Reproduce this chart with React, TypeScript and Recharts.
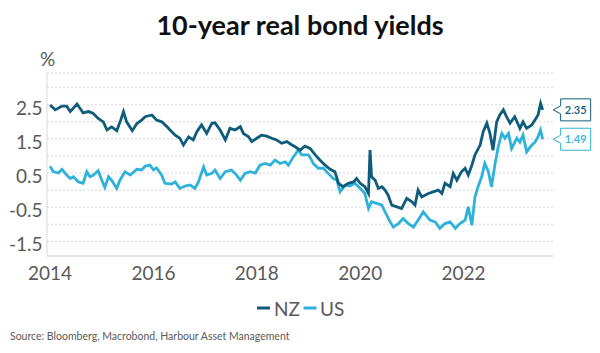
import { CartesianGrid, Line, LineChart, XAxis, YAxis } from "recharts";

const FONT = "Lato, 'Open Sans', sans-serif";
const NZ_COLOR = "#0f5b7a";
const US_COLOR = "#2eb2da";
const TEXT = "#595959";
const AXIS_LINE = "#d9d9d9";

const TITLE = "10-year real bond yields";
const UNIT = "%";
const SOURCE = "Source: Bloomberg, Macrobond, Harbour Asset Management";
const SERIES_NAMES = ["NZ", "US"];

const YEAR_TICKS = [2014, 2016, 2018, 2020, 2022];
const YIELD_TICKS = [-1.5, -1, -0.5, 0, 0.5, 1, 1.5, 2, 2.5, 3];

// NZ 10y real yield (decimal years)
const NZ_DATES = [
  2014.0, 2014.1, 2014.23, 2014.32, 2014.39, 2014.52, 2014.64, 2014.74, 2014.83, 2014.93,
  2015.03, 2015.1, 2015.19, 2015.29, 2015.37, 2015.42, 2015.48, 2015.59, 2015.68, 2015.77,
  2015.84, 2015.97, 2016.06, 2016.16, 2016.26, 2016.32, 2016.42, 2016.51, 2016.58, 2016.68,
  2016.77, 2016.84, 2016.93, 2017.03, 2017.13, 2017.19, 2017.29, 2017.39, 2017.48, 2017.58,
  2017.68, 2017.74, 2017.84, 2017.9, 2018.0, 2018.09, 2018.19, 2018.29, 2018.38, 2018.48,
  2018.58, 2018.68, 2018.74, 2018.84, 2018.93, 2019.03, 2019.13, 2019.22, 2019.32, 2019.42,
  2019.51, 2019.58, 2019.67, 2019.77, 2019.87, 2019.93, 2020.0, 2020.09, 2020.16, 2020.19,
  2020.22, 2020.29, 2020.35, 2020.42, 2020.48, 2020.54, 2020.61, 2020.71, 2020.8, 2020.9,
  2021.0, 2021.06, 2021.12, 2021.19, 2021.32, 2021.41, 2021.51, 2021.58, 2021.64, 2021.74,
  2021.8, 2021.87, 2021.96, 2022.03, 2022.09, 2022.16, 2022.22, 2022.32, 2022.38, 2022.45,
  2022.51, 2022.57, 2022.64, 2022.7, 2022.77, 2022.83, 2022.9, 2022.99, 2023.09, 2023.15,
  2023.22, 2023.32, 2023.38, 2023.44, 2023.49, 2023.53,
];
const NZ_YIELDS = [
  2.49, 2.35, 2.46, 2.46, 2.3, 2.52, 2.26, 2.3, 2.25, 2.1,
  2.0, 1.76, 1.85, 1.74, 2.07, 2.3, 2.0, 1.74, 1.95, 2.05,
  2.15, 2.2, 2.05, 2.0, 1.86, 1.76, 1.61, 1.52, 1.32, 1.56,
  1.47, 1.71, 1.91, 1.66, 1.96, 1.97, 1.76, 1.47, 1.81, 1.76,
  1.86, 1.66, 1.56, 1.42, 1.52, 1.61, 1.58, 1.52, 1.47, 1.37,
  1.42, 1.32, 1.27, 1.17, 1.29, 1.22, 1.03, 0.88, 0.73, 0.61,
  0.54, 0.2, 0.1, 0.2, 0.24, 0.34, 0.2, 0.1, -0.1, 1.17,
  0.39, 0.29, 0.05, 0.1, 0.0, -0.15, -0.44, -0.49, -0.54, -0.24,
  -0.34, -0.44, 0.0, -0.2, -0.1, -0.05, 0.0, -0.1, 0.2, 0.1,
  0.49, 0.29, 0.54, 0.64, 0.44, 0.73, 1.03, 1.32, 1.71, 1.96,
  1.66, 1.17, 2.0, 2.2, 2.35, 2.15, 1.96, 2.15, 1.81, 2.0,
  1.81, 1.91, 2.05, 2.2, 2.54, 2.35,
];

// US 10y real yield (TIPS)
const US_DATES = [
  2014.0, 2014.06, 2014.16, 2014.23, 2014.32, 2014.39, 2014.45, 2014.55, 2014.64, 2014.71,
  2014.77, 2014.84, 2014.93, 2015.0, 2015.06, 2015.13, 2015.19, 2015.29, 2015.35, 2015.45,
  2015.55, 2015.68, 2015.77, 2015.84, 2015.93, 2016.0, 2016.06, 2016.16, 2016.22, 2016.35,
  2016.42, 2016.51, 2016.61, 2016.71, 2016.8, 2016.87, 2016.97, 2017.03, 2017.13, 2017.19,
  2017.29, 2017.39, 2017.51, 2017.61, 2017.68, 2017.77, 2017.87, 2017.97, 2018.06, 2018.16,
  2018.26, 2018.35, 2018.45, 2018.55, 2018.61, 2018.71, 2018.8, 2018.87, 2019.0, 2019.06,
  2019.09, 2019.19, 2019.29, 2019.38, 2019.48, 2019.55, 2019.61, 2019.71, 2019.8, 2019.9,
  2020.0, 2020.09, 2020.16, 2020.22, 2020.32, 2020.42, 2020.48, 2020.58, 2020.64, 2020.74,
  2020.83, 2020.93, 2021.03, 2021.12, 2021.22, 2021.35, 2021.45, 2021.54, 2021.64, 2021.74,
  2021.84, 2021.93, 2022.03, 2022.09, 2022.16, 2022.22, 2022.28, 2022.35, 2022.41, 2022.48,
  2022.54, 2022.61, 2022.67, 2022.74, 2022.8, 2022.87, 2022.93, 2023.03, 2023.09, 2023.15,
  2023.22, 2023.32, 2023.38, 2023.44, 2023.49, 2023.53,
];
const US_YIELDS = [
  0.7, 0.54, 0.5, 0.61, 0.44, 0.34, 0.39, 0.24, 0.2, 0.54,
  0.39, 0.44, 0.57, 0.29, 0.08, 0.39, 0.29, 0.05, 0.29, 0.54,
  0.44, 0.61, 0.59, 0.7, 0.73, 0.59, 0.65, 0.44, 0.2, 0.18,
  0.24, 0.05, 0.12, 0.15, 0.05, 0.24, 0.68, 0.44, 0.49, 0.59,
  0.34, 0.54, 0.59, 0.44, 0.29, 0.49, 0.54, 0.5, 0.73, 0.78,
  0.73, 0.88, 0.78, 0.83, 0.73, 0.98, 1.17, 1.03, 1.03, 0.88,
  0.78, 0.64, 0.64, 0.49, 0.34, 0.29, -0.05, 0.15, 0.12, 0.2,
  0.05, -0.1, -0.54, -0.34, -0.39, -0.44, -0.64, -0.93, -1.08, -0.98,
  -0.83, -0.98, -1.08, -0.88, -0.64, -0.88, -0.93, -1.12, -0.98, -0.93,
  -1.12, -0.98, -0.88, -0.49, -1.03, -0.2, 0.1, 0.39, 0.78, 0.54,
  0.1, 0.78, 1.27, 1.66, 1.52, 1.66, 1.22, 1.52, 1.4, 1.61,
  1.12, 1.32, 1.4, 1.56, 1.76, 1.49,
];

const nzData = NZ_DATES.map((t, i) => ({ t, v: NZ_YIELDS[i] }));
const usData = US_DATES.map((t, i) => ({ t, v: US_YIELDS[i] }));

// end-of-series value box with a notch pointing at the line
function callout(color: string, lastIndex: number) {
  return (p: any) => {
    if (p.index !== lastIndex) return <g />;
    const tip = p.x + 10.5;
    const left = tip + 7.5;
    const w = 30;
    const h = 22;
    const top = p.y - h / 2;
    const d = `M${tip},${p.y} L${left},${p.y - 4} L${left},${top} L${left + w},${top} L${left + w},${top + h} L${left},${top + h} L${left},${p.y + 4} Z`;
    return (
      <g>
        <path d={d} fill="#fff" stroke={color} strokeWidth={1} />
        <text x={left + w / 2} y={p.y + 4} textAnchor="middle" fill={color} style={{ fontSize: 11, fontWeight: 600, fontFamily: FONT }}>
          {Number(p.value).toFixed(2)}
        </text>
      </g>
    );
  };
}

function YTick({ x, y, payload }: any) {
  const v = payload.value;
  if (Math.round(v * 2) % 2 === 0) return <g />;
  return (
    <text x={x - 4.5} y={y + 10} textAnchor="end" fill={TEXT} style={{ fontSize: 19, fontFamily: FONT }}>
      {v}
    </text>
  );
}

function XTick({ x, y, payload }: any) {
  return (
    <text x={x} y={y + 24} textAnchor="middle" fill={TEXT} style={{ fontSize: 19, fontFamily: FONT }}>
      {payload.value}
    </text>
  );
}

export default function App() {
  const colors = [NZ_COLOR, US_COLOR];
  return (
    <div style={{ position: "absolute", left: 0, top: 0, width: 600, height: 353, background: "#fff", fontFamily: FONT }}>
      <LineChart width={600} height={353} margin={{ top: 73, right: 47, bottom: 67, left: 0 }}>
        <CartesianGrid vertical={false} stroke="#d4d4d4" strokeDasharray="2 2" />
        <XAxis
          type="number"
          dataKey="t"
          domain={[2013.94, 2023.73]}
          ticks={YEAR_TICKS}
          interval={0}
          height={30}
          tickSize={0}
          tickMargin={0}
          tickLine={false}
          axisLine={{ stroke: AXIS_LINE }}
          tick={<XTick />}
          allowDataOverflow
        />
        <YAxis
          type="number"
          domain={[-1.93, 3.43]}
          ticks={YIELD_TICKS}
          interval={0}
          width={47}
          tickSize={0}
          tickMargin={0}
          tickLine={false}
          axisLine={{ stroke: AXIS_LINE }}
          tick={<YTick />}
          allowDataOverflow
        />
        <Line
          data={usData}
          dataKey="v"
          name={SERIES_NAMES[1]}
          type="linear"
          stroke={US_COLOR}
          strokeWidth={2.8}
          dot={false}
          isAnimationActive={false}
          label={callout(US_COLOR, usData.length - 1)}
        />
        <Line
          data={nzData}
          dataKey="v"
          name={SERIES_NAMES[0]}
          type="linear"
          stroke={NZ_COLOR}
          strokeWidth={2.8}
          dot={false}
          isAnimationActive={false}
          label={callout(NZ_COLOR, nzData.length - 1)}
        />
      </LineChart>
      <svg width={600} height={353} style={{ position: "absolute", left: 0, top: 0, pointerEvents: "none" }}>
        <text x={300} y={35} textAnchor="middle" fill="#111" style={{ fontSize: 27, fontWeight: 700, fontFamily: FONT }}>
          {TITLE}
        </text>
        <text x={40} y={66} fill={TEXT} style={{ fontSize: 19, fontFamily: FONT }}>
          {UNIT}
        </text>
        {SERIES_NAMES.map((name, i) => (
          <g key={name}>
            <rect x={257 + i * 46.5} y={306.5} width={13} height={3} fill={colors[i]} />
            <text x={274 + i * 46} y={315.5} fill={TEXT} style={{ fontSize: 19, fontFamily: FONT }}>
              {name}
            </text>
          </g>
        ))}
        <text x={10} y={340} fill={TEXT} style={{ fontSize: 10.5, fontFamily: FONT }}>
          {SOURCE}
        </text>
      </svg>
    </div>
  );
}
